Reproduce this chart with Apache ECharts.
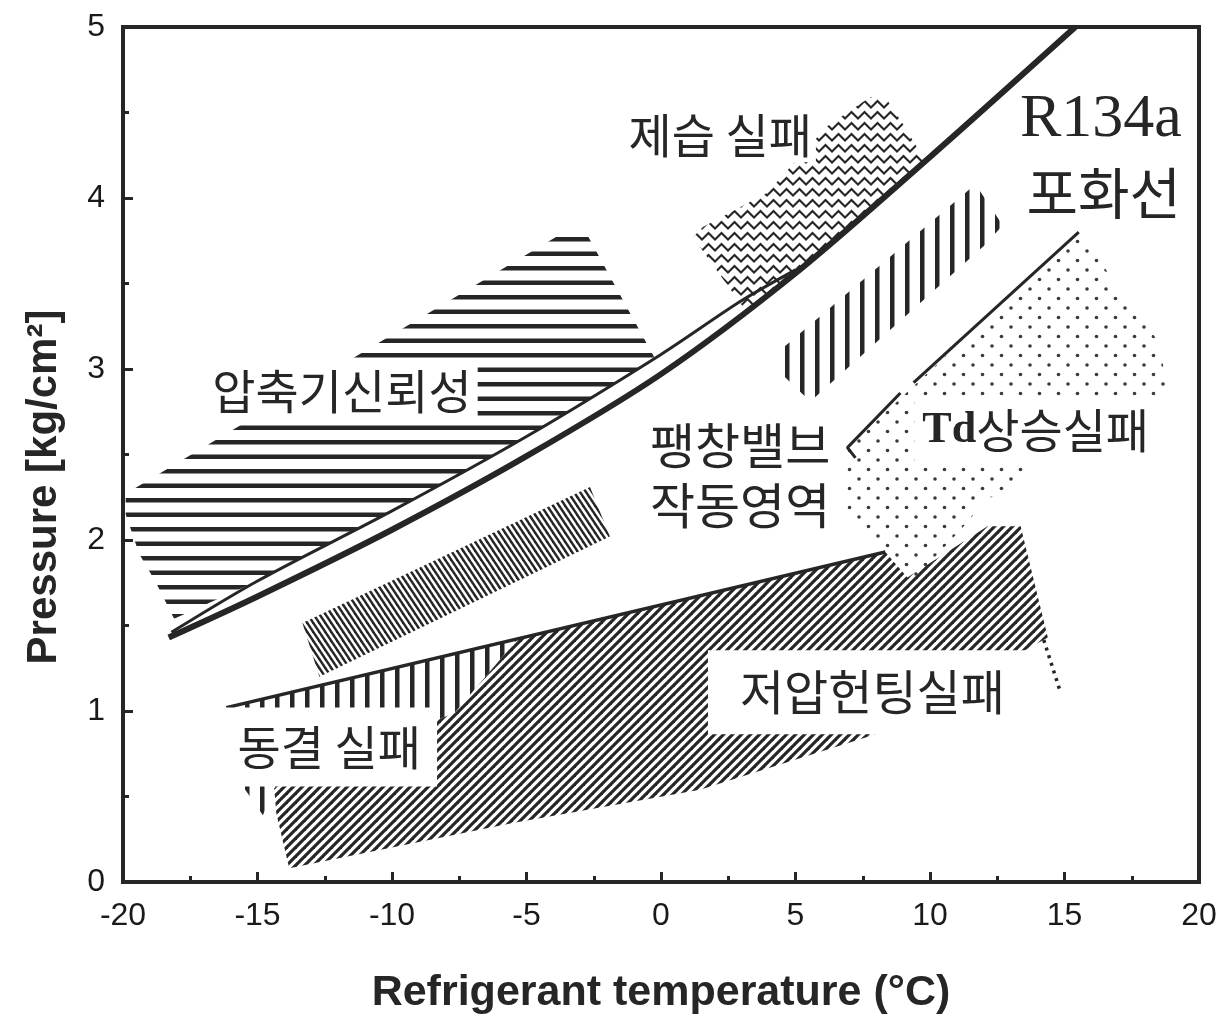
<!DOCTYPE html>
<html><head><meta charset="utf-8">
<script src="https://cdn.jsdelivr.net/npm/echarts@6/dist/echarts.min.js"></script>
<style>html,body{margin:0;padding:0;background:#fff}#c{width:1223px;height:1027px}</style>
</head><body><div id="c"></div>
<script>
// ---------------- data (x: refrigerant temperature °C, y: pressure kg/cm²) ----------------
const xTitle = 'Refrigerant temperature (°C)';
const yTitle = 'Pressure [kg/cm²]';
const satCurve = [[-18.3,1.43],[-15,1.67],[-10,2.06],[-5,2.49],[0,2.97],[5,3.56],[10,4.24],[15.4,5.0]];
const compressorEdge = [[-18.2,1.46],[-15,1.76],[-10,2.17],[-5,2.605],[0,3.085],[3,3.40],[5,3.58]];
const compressorRegion = [[-3.5,3.81],[-2.83,3.81],[-0.22,3.06],[-5,2.605],[-10,2.17],[-15,1.76],[-18.1,1.54],[-18.77,1.75],[-19.4,1.92],[-19.9,2.15],[-19.9,2.27]];
const dehumidRegion = [[7.78,4.59],[8.42,4.57],[9.09,4.41],[9.8,4.22],[7,3.81],[5,3.55],[3.2,3.33],[1.19,3.77],[1.56,3.83],[3.95,4.03],[6.18,4.42]];
const valveRegion = [[4.43,3.11],[11.69,4.08],[12.70,3.84],[12.07,3.73],[5.55,2.81],[4.43,2.98]];
const tdRegion = [[6.93,2.54],[15.53,3.80],[18.58,3.14],[18.77,2.87],[13.74,2.40],[12.07,2.23],[11.14,2.06],[9.46,1.78],[8.16,1.95],[6.93,2.15]];
const tdEdgeA = [[7.23,2.48],[6.93,2.54],[8.90,2.86]];
const tdEdgeB = [[9.39,2.92],[15.53,3.80]];
const freezeRegion = [[-16.16,1.02],[-5.36,1.415],[-7.67,0.99],[-14.38,0.55],[-14.8,0.39],[-15.5,0.55]];
const huntingRegion = [[-5.36,1.415],[8.34,1.93],[9.16,1.78],[12.14,2.08],[13.37,2.08],[14.38,1.43],[7.90,0.86],[1.45,0.54],[-5.51,0.345],[-13.82,0.08],[-14.30,0.40],[-14.38,0.55],[-7.67,0.99]];
const huntingEdge = [[-16.16,1.02],[8.34,1.93]];
const huntingTail = [[14.23,1.415],[14.86,1.105]];
const midRegion = [[-13.33,1.515],[-2.64,2.31],[-1.90,2.02],[-12.70,1.20]];
const labelTexts = ['압축기신뢰성','제습 실패','R134a','포화선','팽창밸브','작동영역','{a|Td}{b|상승실패}','저압헌팅실패','동결 실패'];
const labelX = [-11.86, 2.2, 16.35, 16.46, 2.94, 2.94, 13.93, 7.86, -12.33];
const labelY = [2.87, 4.37, 4.46, 4.03, 2.555, 2.205, 2.64, 1.11, 0.79];

// ---------------- styles ----------------
const INK = '#262626';
const KR = '"Noto Sans CJK KR", sans-serif';
const labelStyles = [
  {font:'47px '+KR, bg:'#fff', pad:[6,6,4,6]},
  {font:'47px '+KR, bg:'#fff', pad:[4,4,4,4]},
  {font:'62px "Liberation Serif", serif', bg:null, pad:0},
  {font:'56px '+KR, bg:null, pad:0},
  {font:'49px '+KR, bg:null, pad:0},
  {font:'49px '+KR, bg:null, pad:0},
  {font:'47px '+KR, bg:'#fff', pad:[9,8,9,8]},
  {font:'48px '+KR, bg:'#fff', pad:[18,32,18,32]},
  {font:'47px '+KR, bg:'#fff', pad:[16,16,16,16]}
];

function tile(w, h, draw) {
  const c = document.createElement('canvas'); c.width = w; c.height = h;
  const g = c.getContext('2d'); g.fillStyle = INK; g.strokeStyle = INK; draw(g, w, h);
  return {image: c, repeat: 'repeat'};
}
function diag(W, H, lw, dir) {
  return tile(W, H, (g) => {
    g.lineWidth = lw; g.lineCap = 'butt';
    for (let k = -2; k <= 2; k++) {
      g.beginPath();
      if (dir > 0) { g.moveTo(k*W - W, -H); g.lineTo(k*W + 2*W, 2*H); }
      else { g.moveTo(k*W + W, -H); g.lineTo(k*W - 2*W, 2*H); }
      g.stroke();
    }
  });
}
const patH = tile(8, 29, (g,w) => { g.fillRect(0, 5, w, 4.5); g.fillRect(0, 19.5, w, 4.5); });
const patV = tile(15, 8, (g,w,h) => { g.fillRect(5, 0, 4.5, h); });
const patBack = diag(6, 9, 2.4, 1);
const patFwd = diag(9, 9, 3.2, -1);
const patZig = tile(13, 11, (g) => {
  g.lineWidth = 2.2; g.lineJoin = 'miter';
  g.beginPath(); g.moveTo(-6.5, 2); g.lineTo(0, 8.5); g.lineTo(6.5, 2); g.lineTo(13, 8.5); g.lineTo(19.5, 2); g.stroke();
});
const patDot = tile(19, 19, (g) => {
  g.fillStyle = '#3a3a3a';
  g.beginPath(); g.arc(4, 4, 1.8, 0, Math.PI*2); g.fill();
  g.beginPath(); g.arc(13.5, 13.5, 1.8, 0, Math.PI*2); g.fill();
});

function region(pts, fill) {
  return {
    type: 'custom', coordinateSystem: 'cartesian2d', silent: true, z: 2,
    data: pts, encode: {x: 0, y: 1},
    renderItem: (params, api) => {
      if (params.dataIndex !== 0) return null;
      return {type: 'polygon', shape: {points: pts.map(p => api.coord(p))}, style: {fill: fill}};
    }
  };
}
function line(pts, width, opts) {
  return Object.assign({
    type: 'line', data: pts, showSymbol: false, silent: true, z: 4,
    lineStyle: {color: INK, width: width}
  }, opts || {});
}

const series = [
  region(compressorRegion, patH),
  region(dehumidRegion, patZig),
  region(valveRegion, patV),
  region(tdRegion, patDot),
  region(midRegion, patBack),
  region(freezeRegion, patV),
  region(huntingRegion, patFwd),
  line(compressorEdge, 3, {smooth: 0.3}),
  line(satCurve, 6, {smooth: 0.3}),
  line(huntingEdge, 3.5),
  line(tdEdgeA, 3),
  line(tdEdgeB, 3),
  line(huntingTail, 3.5, {lineStyle: {color: INK, width: 3.5, type: [3, 5]}}),
  {
    type: 'custom', coordinateSystem: 'cartesian2d', silent: true, z: 10,
    data: labelX.map((x, i) => [x, labelY[i]]), encode: {x: 0, y: 1},
    renderItem: (params, api) => {
      const i = params.dataIndex, st = labelStyles[i];
      const p = api.coord([labelX[i], labelY[i]]);
      const style = {
        text: labelTexts[i], fill: INK, font: st.font,
        align: 'center', verticalAlign: 'middle'
      };
      if (st.bg) { style.backgroundColor = st.bg; style.padding = st.pad; }
      if (i === 6) style.rich = {a: {font: 'bold 44px "Liberation Serif", serif', fill: INK}, b: {font: st.font, fill: INK}};
      return {type: 'text', x: p[0], y: p[1], style: style};
    }
  }
];

const axisCommon = {
  type: 'value',
  axisLine: {show: true, onZero: false, lineStyle: {color: INK, width: 4}},
  axisTick: {show: true, inside: true, length: 10, lineStyle: {color: INK, width: 3}},
  minorTick: {show: true, splitNumber: 2, length: 6, lineStyle: {color: INK, width: 3}},
  splitLine: {show: false},
  axisLabel: {color: '#1a1a1a', fontSize: 32, fontFamily: '"Liberation Sans", Arial, sans-serif', margin: 18, showMinLabel: true, showMaxLabel: true}
};

const chart = echarts.init(document.getElementById('c'), null, {renderer: 'canvas'});
chart.setOption({
  backgroundColor: '#fff',
  animation: false,
  grid: {left: 123, right: 24, top: 27, bottom: 145, show: true, borderColor: INK, borderWidth: 4, backgroundColor: 'transparent'},
  xAxis: Object.assign({}, axisCommon, {
    min: -20, max: 20, interval: 5,
    name: xTitle, nameLocation: 'middle', nameGap: 90,
    nameTextStyle: {fontSize: 43, fontWeight: 'bold', color: INK, fontFamily: '"Liberation Sans", Arial, sans-serif'}
  }),
  yAxis: Object.assign({}, axisCommon, {
    min: 0, max: 5, interval: 1,
    name: yTitle, nameLocation: 'middle', nameGap: 58,
    nameTextStyle: {fontSize: 42, fontWeight: 'bold', color: INK, fontFamily: '"Liberation Sans", Arial, sans-serif', padding: [0, 65, 0, 0]}
  }),
  series: series
});
</script>
</body></html>
